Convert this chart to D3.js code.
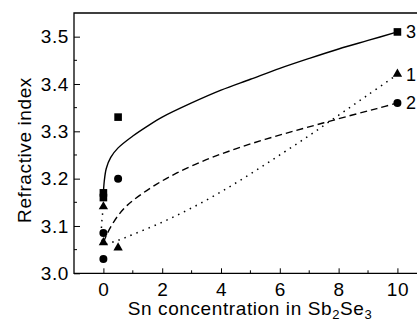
<!DOCTYPE html>
<html>
<head>
<meta charset="utf-8">
<script src="https://cdn.jsdelivr.net/npm/d3@7"></script>
<style>
  body { margin: 0; background: #fff; }
  text { font-family: "Liberation Sans", Arial, sans-serif; fill: #000; letter-spacing: 0.6px; }
</style>
</head>
<body>
<div id="chart"></div>
<script>
const width = 417;
const height = 322;

// measured points (x = Sn concentration, y = refractive index)
const squares = [[0, 3.17], [0, 3.16], [0.5, 3.33], [10, 3.51]];
const triangles = [[0, 3.14], [0, 3.064], [0.5, 3.053], [10, 3.42]];
const circles = [[0, 3.085], [0, 3.03], [0.5, 3.2], [10, 3.36]];

// fitted curves
const fit3 = [[0, 3.17], [0.03, 3.195], [0.1, 3.222], [0.25, 3.245], [0.5, 3.265], [1, 3.29], [1.5, 3.311],
  [2, 3.33], [3, 3.36], [4, 3.387], [5, 3.41], [6, 3.433], [7, 3.454], [8, 3.474], [9, 3.492], [10, 3.51]];
const fit2 = [[0, 3.065], [0.1, 3.08], [0.25, 3.098], [0.5, 3.122], [0.8, 3.143], [1.2, 3.163], [1.8, 3.188],
  [2.5, 3.212], [3.5, 3.24], [4.5, 3.263], [5.5, 3.283], [6.5, 3.301], [7.5, 3.318], [8.5, 3.335], [9.3, 3.348], [10, 3.36]];
const fit1 = [[0, 3.14], [0, 3.064], [0.5, 3.07], [1, 3.082], [2, 3.108], [3, 3.138], [4, 3.172],
  [5, 3.21], [6, 3.25], [7, 3.291], [8, 3.334], [9, 3.377], [10, 3.42]];

const xTicks = [0, 2, 4, 6, 8, 10];
const xMinor = [1, 3, 5, 7, 9];
const yTicks = [3.0, 3.1, 3.2, 3.3, 3.4, 3.5];
const yMinor = [3.05, 3.15, 3.25, 3.35, 3.45];
const seriesLabels = [["3", 3.51], ["1", 3.42], ["2", 3.36]];

const plotLeft = 74, plotRight = 418, plotTop = 13, plotBottom = 273.3;

const x = d3.scaleLinear().domain([-1, 10.7]).range([plotLeft, plotRight]);
const y = d3.scaleLinear().domain([3.0, 3.55]).range([plotBottom, plotTop]);

const svg = d3.select("#chart")
    .append("svg")
    .attr("width", width)
    .attr("height", height);

// frame: left, bottom and top lines
svg.append("path")
    .attr("d", "M" + plotRight + "," + plotTop + "H" + plotLeft + "V" + plotBottom + "H" + plotRight)
    .attr("fill", "none")
    .attr("stroke", "#000")
    .attr("stroke-width", 1.3);

// x axis
const xAxis = svg.append("g")
    .attr("transform", "translate(0," + plotBottom + ")")
    .call(d3.axisBottom(x).tickValues(xTicks).tickSizeInner(-5).tickSizeOuter(0).tickPadding(9));
xAxis.select(".domain").remove();
xAxis.selectAll("text").attr("font-size", 19).attr("dy", "0.71em");
xAxis.selectAll("line").attr("stroke-width", 1);
svg.append("g").selectAll("line").data(xMinor).join("line")
    .attr("x1", d => x(d)).attr("x2", d => x(d))
    .attr("y1", plotBottom).attr("y2", plotBottom - 3)
    .attr("stroke", "#000");

// y axis
const yAxis = svg.append("g")
    .attr("transform", "translate(" + plotLeft + ",0)")
    .call(d3.axisLeft(y).tickValues(yTicks).tickFormat(d3.format(".1f"))
        .tickSizeInner(-6).tickSizeOuter(0).tickPadding(5));
yAxis.select(".domain").remove();
yAxis.selectAll("text").attr("font-size", 19);
yAxis.selectAll("line").attr("stroke-width", 1);
svg.append("g").selectAll("line").data(yMinor).join("line")
    .attr("x1", plotLeft).attr("x2", plotLeft + 3)
    .attr("y1", d => y(d)).attr("y2", d => y(d))
    .attr("stroke", "#000");

// axis titles
svg.append("text")
    .attr("transform", "translate(31,150) rotate(-90)")
    .attr("text-anchor", "middle")
    .attr("font-size", 19)
    .text("Refractive index");

const xt = svg.append("text")
    .attr("x", 250)
    .attr("y", 315)
    .attr("text-anchor", "middle")
    .attr("font-size", 19);
xt.append("tspan").text("Sn concentration in Sb");
xt.append("tspan").attr("font-size", 13).attr("dy", 4).text("2");
xt.append("tspan").attr("dy", -4).text("Se");
xt.append("tspan").attr("font-size", 13).attr("dy", 4).text("3");

// fit curves
const line = d3.line()
    .x(d => x(d[0]))
    .y(d => y(d[1]))
    .curve(d3.curveCatmullRom.alpha(0.5));

svg.append("path").attr("d", line(fit3))
    .attr("fill", "none").attr("stroke", "#000").attr("stroke-width", 1.4);
svg.append("path").attr("d", line(fit2))
    .attr("fill", "none").attr("stroke", "#000").attr("stroke-width", 1.4)
    .attr("stroke-dasharray", "7,4");
svg.append("path").attr("d", line(fit1))
    .attr("fill", "none").attr("stroke", "#000").attr("stroke-width", 1.5)
    .attr("stroke-dasharray", "1.5,5");

// markers
svg.append("g").selectAll("rect").data(squares).join("rect")
    .attr("x", d => x(d[0]) - 3.8)
    .attr("y", d => y(d[1]) - 3.8)
    .attr("width", 7.6)
    .attr("height", 7.6)
    .attr("fill", "#000");

svg.append("g").selectAll("path").data(triangles).join("path")
    .attr("d", d3.symbol().type(d3.symbolTriangle).size(38))
    .attr("transform", d => "translate(" + x(d[0]) + "," + (y(d[1]) - 0.5) + ")")
    .attr("fill", "#000");

svg.append("g").selectAll("circle").data(circles).join("circle")
    .attr("cx", d => x(d[0]))
    .attr("cy", d => y(d[1]))
    .attr("r", 4)
    .attr("fill", "#000");

// series labels at the right edge
svg.append("g").selectAll("text").data(seriesLabels).join("text")
    .attr("x", 406)
    .attr("y", d => y(d[1]))
    .attr("dy", "0.36em")
    .attr("font-size", 18)
    .style("letter-spacing", "0px")
    .text(d => d[0]);
</script>
</body>
</html>
